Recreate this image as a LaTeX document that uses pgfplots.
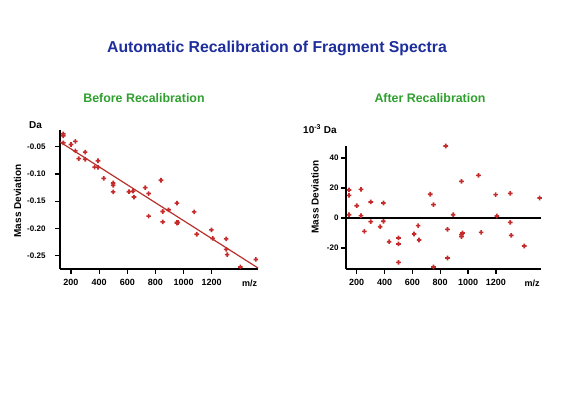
\documentclass[border=0pt]{standalone}
\usepackage{pgfplots}
\pgfplotsset{compat=1.18}
\usepackage{fontspec}
\setmainfont{Liberation Sans}
\definecolor{ptred}{HTML}{C62B2B}
\definecolor{fitred}{HTML}{B8322C}
\definecolor{ttlblue}{HTML}{1E2E9C}
\definecolor{subgreen}{HTML}{2FA02F}
\pgfdeclareplotmark{fatplus}{%
  \pgfpathrectangle{\pgfpoint{-\pgfplotmarksize}{-0.36\pgfplotmarksize}}{\pgfpoint{2\pgfplotmarksize}{0.72\pgfplotmarksize}}%
  \pgfpathrectangle{\pgfpoint{-0.36\pgfplotmarksize}{-\pgfplotmarksize}}{\pgfpoint{0.72\pgfplotmarksize}{2\pgfplotmarksize}}%
  \pgfusepathqfill}
\pgfplotsset{
  common/.style={
    scale only axis,
    axis x line*=bottom, axis y line*=left,
    axis line style={line width=1.5pt, black},
    tick align=outside,
    major tick length=5pt,
    every tick/.style={line width=1.2pt, black},
    x tick label style={font=\bfseries\fontsize{9}{10}\selectfont, yshift=-2pt},
    y tick label style={font=\bfseries\fontsize{8}{9}\selectfont},
    clip=false,
    xtick={200,400,600,800,1000,1200},
    xticklabels={200,400,600,800,1000,1200},
  },
  pts/.style={only marks, mark=fatplus, mark size=2.3pt, color=ptred,
    mark options={fill=ptred, draw=none}},
}
\begin{document}
\begin{tikzpicture}
\useasboundingbox (0,0) rectangle (566pt,393pt);
\fill[white] (0,0) rectangle (566pt,393pt);
\node[font=\bfseries\fontsize{15.8}{18}\selectfont, text=ttlblue] at (277pt,345pt) {Automatic Recalibration of Fragment Spectra};
\node[font=\bfseries\fontsize{12.4}{14}\selectfont, text=subgreen] at (144pt,295pt) {Before Recalibration};
\node[font=\bfseries\fontsize{12.4}{14}\selectfont, text=subgreen] at (430pt,295pt) {After Recalibration};
\node[font=\bfseries\fontsize{10}{12}\selectfont, anchor=west, inner sep=0pt] at (29pt,268pt) {Da};
\node[font=\bfseries\fontsize{10}{12}\selectfont, anchor=west, inner sep=0pt] at (303pt,264pt) {10\textsuperscript{-3} Da};
\node[font=\bfseries\fontsize{10}{12}\selectfont, rotate=90] at (17.5pt,192pt) {Mass Deviation};
\node[font=\bfseries\fontsize{10}{12}\selectfont, rotate=90] at (315pt,196pt) {Mass Deviation};

\begin{axis}[common,
  at={(60pt,124pt)}, anchor=south west,
  width=198pt, height=139pt,
  xmin=122, xmax=1529, ymin=-0.275, ymax=-0.019,
  ytick={-0.25,-0.2,-0.15,-0.1,-0.05},
  yticklabels={-0.25,-0.20,-0.15,-0.10,-0.05},
  y tick label style={xshift=-6pt},
]
\addplot[fitred, line width=1.2pt] coordinates {(122,-0.041) (1529,-0.2732)};
\addplot[pts] coordinates {
(145,-0.0261) (145,-0.0297) (145,-0.0426) (200,-0.0457) (231,-0.0399) (231,-0.0574)
(255,-0.0718) (301,-0.0598) (301,-0.0729) (368,-0.0874) (392,-0.0756) (392,-0.0878)
(433,-0.1081) (500,-0.1167) (500,-0.1207) (500,-0.1330) (612,-0.1326) (641,-0.1317)
(648,-0.1425) (728,-0.1252) (752,-0.1361) (752,-0.1777) (840,-0.1115) (852,-0.1691)
(852,-0.1882) (893,-0.1660) (953,-0.1537) (953,-0.1892) (953,-0.1905) (960,-0.1893)
(1075,-0.1698) (1094,-0.2110) (1198,-0.2029) (1207,-0.2187) (1303,-0.2195) (1303,-0.2388)
(1310,-0.2486) (1404,-0.2712) (1514,-0.2574)
};
\node[anchor=north, font=\bfseries\fontsize{9}{10}\selectfont, yshift=-7pt] at (axis cs:1470,-0.275) {m/z};
\end{axis}

\begin{axis}[common,
  at={(346pt,124pt)}, anchor=south west,
  width=195pt, height=123pt,
  xmin=123, xmax=1524, ymin=-34, ymax=48,
  ytick={-20,0,20,40},
  yticklabels={-20,0,20,40},
  y tick label style={xshift=1pt},
]
\addplot[black, line width=1.5pt] coordinates {(123,0) (1524,0)};
\addplot[pts] coordinates {
(145,18.7) (145,15.1) (145,2.2) (200,8.2) (231,19.1) (231,1.6)
(255,-8.9) (301,10.7) (301,-2.4) (368,-5.8) (392,10.0) (392,-2.2)
(433,-15.8) (500,-13.3) (500,-17.3) (500,-29.6) (612,-10.7) (641,-5.1)
(648,-14.7) (728,15.8) (752,8.9) (752,-32.7) (840,48.0) (852,-7.6)
(852,-26.7) (893,2.2) (953,24.4) (953,-11.1) (953,-12.4) (960,-10.0)
(1075,28.4) (1094,-9.6) (1198,15.6) (1207,1.3) (1303,16.4) (1303,-2.9)
(1310,-11.6) (1404,-18.7) (1514,13.3)
};
\node[anchor=north, font=\bfseries\fontsize{9}{10}\selectfont, yshift=-7pt] at (axis cs:1460,-34) {m/z};
\end{axis}
\end{tikzpicture}
\end{document}
